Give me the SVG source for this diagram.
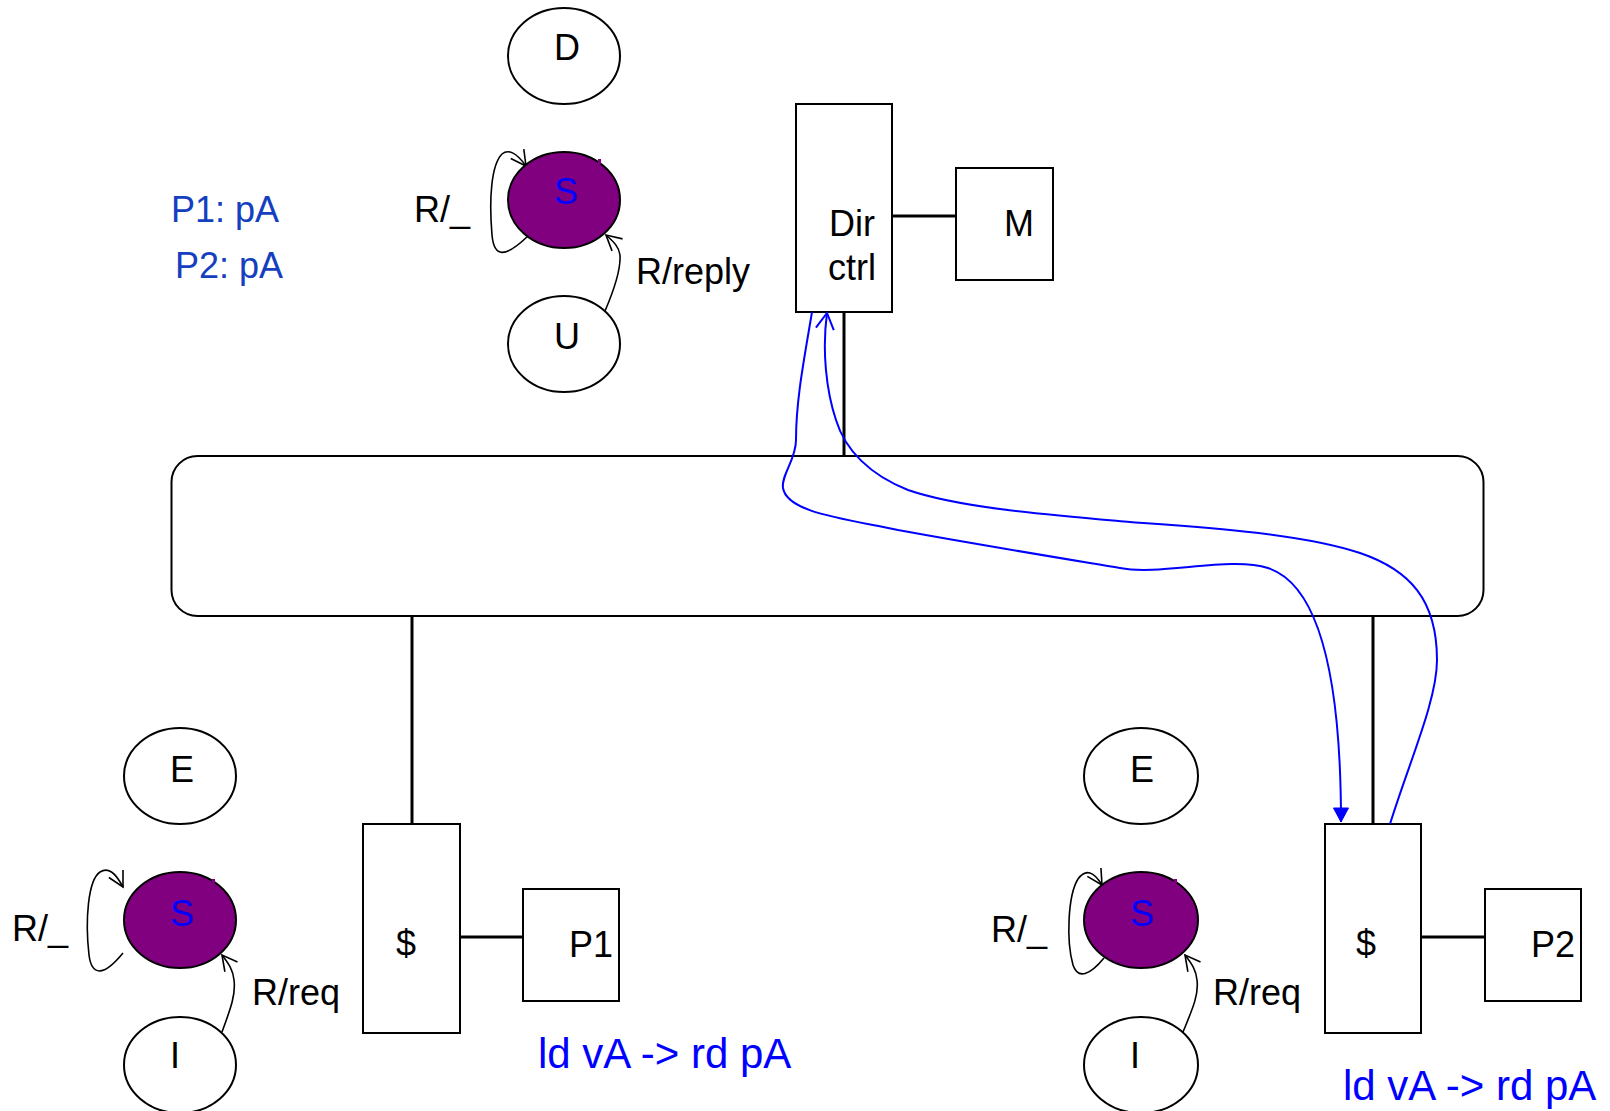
<svg xmlns="http://www.w3.org/2000/svg" width="1610" height="1111" viewBox="0 0 1610 1111">
<defs>
<style>
.st{fill:#fff;stroke:#000;stroke-width:2}
.ss{fill:#800080;stroke:#000;stroke-width:2}
.box{fill:#fff;stroke:#000;stroke-width:2}
.t{font-family:"Liberation Sans",Arial,sans-serif;font-size:36px;fill:#000}
.tb{font-family:"Liberation Sans",Arial,sans-serif;font-size:36px;fill:#0000ff}
.tp{font-family:"Liberation Sans",Arial,sans-serif;font-size:36px;fill:#1440c0}
.tl{font-family:"Liberation Sans",Arial,sans-serif;font-size:42px;fill:#0000ff}
.wire{stroke:#000;stroke-width:3;fill:none}
.arc{stroke:#000;stroke-width:1.6;fill:none}
.blue{stroke:#0000ff;stroke-width:2;fill:none}
</style>
<marker id="oa" markerUnits="userSpaceOnUse" markerWidth="20" markerHeight="20" viewBox="-16 -10 18 20" refX="0" refY="0" orient="auto"><path d="M-15,-8 L0,0 L-15,8" fill="none" stroke="#000" stroke-width="1.6"/></marker>
<marker id="ob" markerUnits="userSpaceOnUse" markerWidth="20" markerHeight="20" viewBox="-16 -10 18 20" refX="0" refY="0" orient="auto"><path d="M-16,-9 L0,0 L-16,9" fill="none" stroke="#0000ff" stroke-width="2"/></marker>
<marker id="fb" markerUnits="userSpaceOnUse" markerWidth="20" markerHeight="20" viewBox="-16 -10 18 20" refX="0" refY="0" orient="auto"><path d="M-14,-7.5 L0,0 L-14,7.5 Z" fill="#0000ff" stroke="#0000ff" stroke-width="1"/></marker>
</defs>

<g id="connectors">
<line class="wire" x1="892" y1="216" x2="956" y2="216"/>
<line class="wire" x1="844" y1="312" x2="844" y2="456"/>
<line class="wire" x1="412" y1="616" x2="412" y2="824"/>
<line class="wire" x1="460" y1="937" x2="523" y2="937"/>
<line class="wire" x1="1373" y1="616" x2="1373" y2="824"/>
<line class="wire" x1="1421" y1="937" x2="1485" y2="937"/>
<path class="arc" d="M528 236 C505 258 494 258 492 235 C489 200 491 165 502 154 C508 149 516 152 526 166" marker-end="url(#oa)"/>
<path class="arc" d="M605 311 C614 290 621 270 620 255 C619 247 614 242 606 235" marker-end="url(#oa)"/>
<path class="arc" d="M123 953 C105 975 92 978 89 955 C85 920 88 880 100 872 C108 867 115 872 123 887" marker-end="url(#oa)"/>
<path class="arc" d="M222 1032 C230 1010 236 995 234 980 C233 970 229 964 222 955" marker-end="url(#oa)"/>
<path class="arc" d="M1104 958 C1090 975 1078 980 1073 965 C1066 940 1068 895 1078 879 C1086 868 1094 872 1102 885" marker-end="url(#oa)"/>
<path class="arc" d="M1183 1032 C1192 1010 1199 995 1197 980 C1196 970 1192 964 1185 955" marker-end="url(#oa)"/>
</g>

<g id="bus"><rect class="box" x="171.5" y="456" width="1312" height="160" rx="26" ry="26"/></g>

<g id="dirctrl"><rect class="box" x="796" y="104" width="96" height="208"/><text class="t" x="852" y="236" text-anchor="middle">Dir</text><text class="t" x="852" y="280" text-anchor="middle">ctrl</text></g>
<g id="mem"><rect class="box" x="956" y="168" width="97" height="112"/><text class="t" x="1019" y="236" text-anchor="middle">M</text></g>

<g id="cache1"><rect class="box" x="363" y="824" width="97" height="209"/><text class="t" x="406" y="956" text-anchor="middle">$</text></g>
<g id="p1"><rect class="box" x="523" y="889" width="96" height="112"/><text class="t" x="569" y="957">P1</text></g>
<g id="cache2"><rect class="box" x="1325" y="824" width="96" height="209"/><text class="t" x="1366" y="956" text-anchor="middle">$</text></g>
<g id="p2"><rect class="box" x="1485" y="889" width="96" height="112"/><text class="t" x="1531" y="957">P2</text></g>

<g id="topD"><ellipse class="st" cx="564" cy="56" rx="56" ry="48"/><text class="t" x="554" y="60">D</text></g>
<g id="topS"><ellipse class="ss" cx="564" cy="200" rx="56" ry="48"/><rect x="598" y="159" width="3" height="5" fill="#800080"/><text class="tb" x="554" y="204">S</text></g>
<g id="topU"><ellipse class="st" cx="564" cy="344" rx="56" ry="48"/><text class="t" x="554" y="349">U</text></g>
<g id="topLabels"><text class="t" x="414" y="222">R/_</text><text class="t" x="636" y="284">R/reply</text></g>
<g id="dirState"><text class="tp" x="171" y="222">P1: pA</text><text class="tp" x="175" y="278">P2: pA</text></g>

<g id="leftE"><ellipse class="st" cx="180" cy="776" rx="56" ry="48"/><text class="t" x="170" y="782">E</text></g>
<g id="leftS"><ellipse class="ss" cx="180" cy="920" rx="56" ry="48"/><rect x="212" y="879" width="3" height="4" fill="#800080"/><text class="tb" x="170" y="926">S</text></g>
<g id="leftI"><ellipse class="st" cx="180" cy="1065" rx="56" ry="48"/><text class="t" x="170" y="1068">I</text></g>
<g id="leftLabels"><text class="t" x="12" y="941">R/_</text><text class="t" x="252" y="1005">R/req</text><text class="tl" x="538" y="1068">ld vA -&gt; rd pA</text></g>

<g id="rightE"><ellipse class="st" cx="1141" cy="776" rx="57" ry="48"/><text class="t" x="1130" y="782">E</text></g>
<g id="rightS"><ellipse class="ss" cx="1141" cy="920" rx="57" ry="48"/><rect x="1174" y="879" width="3" height="4" fill="#800080"/><text class="tb" x="1130" y="926">S</text></g>
<g id="rightI"><ellipse class="st" cx="1141" cy="1065" rx="57" ry="48"/><text class="t" x="1130" y="1068">I</text></g>
<g id="rightLabels"><text class="t" x="991" y="942">R/_</text><text class="t" x="1213" y="1005">R/req</text><text class="tl" x="1343" y="1100">ld vA -&gt; rd pA</text></g>

<g id="messages">
<path class="blue" d="M812 312 C804 360 796 400 796 440 C796 460 781 475 783 488 C787 512 840 518 898 530 C980 545 1060 558 1120 568 C1160 576 1230 556 1268 568 C1320 585 1341 680 1341 822" marker-end="url(#fb)"/>
<path class="blue" d="M1390 824 C1410 760 1437 700 1437 660 C1437 600 1410 570 1360 553 C1300 533 1200 527 1130 522 C1050 515 960 508 908 490 C870 475 845 450 836 420 C826 390 822 350 827 313" marker-end="url(#ob)"/>
</g>
</svg>
